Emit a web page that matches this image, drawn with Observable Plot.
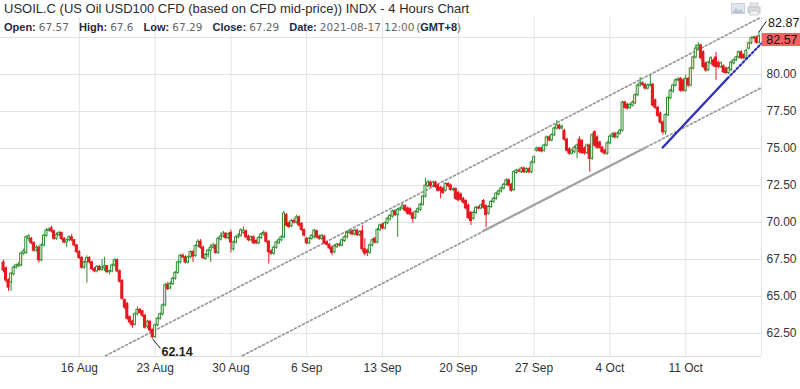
<!DOCTYPE html>
<html>
<head>
<meta charset="utf-8">
<script src="https://cdn.jsdelivr.net/npm/d3@7"></script>
<script src="https://cdn.jsdelivr.net/npm/@observablehq/plot@0.6"></script>
<style>
  html, body { margin: 0; padding: 0; background: #fff; }
  #wrap { position: relative; width: 800px; height: 389px; overflow: hidden; }
  #hdr { position: absolute; left: 4px; top: 1px; font-family: "Liberation Sans", Arial, sans-serif; color: #2b2b2b; pointer-events: none; }
  #title { font-size: 13px; line-height: 16px; white-space: nowrap; }
  #info { font-size: 11px; line-height: 14px; margin-top: 3px; white-space: nowrap; }
  #info b { color: #1f2a44; font-weight: bold; }
  #info .v { font-family: "DejaVu Sans", sans-serif; font-size: 10.5px; color: #666; margin-right: 7px; }
  #icons { position: absolute; left: 731px; top: 2px; }
</style>
</head>
<body>
<div id="wrap">
  <div id="chart"></div>
  <div id="hdr">
    <div id="title">USOIL.C (US Oil USD100 CFD (based on CFD mid-price)) INDX - 4 Hours Chart</div>
    <div id="info"><b>Open:</b> <span class="v">67.57</span> <b>High:</b> <span class="v">67.6</span> <b>Low:</b> <span class="v">67.29</span> <b>Close:</b> <span class="v">67.29</span> <b>Date:</b> <span class="v" style="margin-right:2px">2021-08-17 12:00</span><span style="color:#666">(</span><b>GMT+8</b><span style="color:#666">)</span></div>
  </div>
  <svg id="icons" width="32" height="14" viewBox="0 0 32 14">
    <rect x="0.5" y="1.5" width="13" height="10" fill="#dfe6ee" stroke="#c9d2dc"/>
    <path d="M1 11 L5 6 L8 9 L10 7 L13 11 Z" fill="#b8c4d0"/>
    <rect x="19" y="1" width="8" height="4" fill="#e8e8e8" stroke="#cfcfcf"/>
    <rect x="17" y="5" width="12" height="6" fill="#d5d9de" stroke="#c3c8ce"/>
    <rect x="19" y="9" width="8" height="4" fill="#f2f2f2" stroke="#cfcfcf"/>
  </svg>
</div>
<script>
// ---- data (4-hour candles, index 0 = Mon 9 Aug 2021) ----
const opens = [
67.30,66.90,66.10,65.95,66.50,66.95,67.05,67.10,67.90,67.95,
68.90,68.90,68.60,68.10,68.30,67.45,68.45,69.10,69.46,69.60,
69.40,68.90,69.15,69.30,68.90,68.65,68.80,69.00,68.80,68.45,
68.00,67.60,66.95,67.30,67.60,67.30,66.85,66.70,67.00,66.80,
66.90,67.05,66.65,66.70,67.10,67.45,66.70,66.05,64.75,64.50,
63.60,63.30,63.10,63.80,64.10,64.00,63.70,62.95,63.30,62.75,
62.25,63.05,63.50,63.80,64.40,65.80,65.55,65.85,66.20,66.60,
67.30,67.75,67.65,67.30,67.65,68.00,67.75,68.40,68.70,68.30,
67.55,67.80,68.10,68.30,68.45,67.95,68.85,69.05,69.25,68.95,
69.30,68.20,68.65,69.00,69.12,69.30,69.40,69.05,68.80,69.00,
68.75,68.60,68.95,69.20,69.25,68.70,68.05,67.90,68.30,68.60,
68.80,69.00,70.50,69.95,69.75,70.10,70.00,70.35,69.90,69.50,
68.90,68.60,68.90,69.00,69.40,69.05,68.90,69.05,68.65,68.50,
68.30,68.00,68.35,68.50,68.45,68.75,69.00,69.30,69.40,69.20,
69.45,69.15,69.40,68.20,68.10,67.95,68.45,68.90,68.65,69.50,
69.85,69.60,69.95,70.20,70.40,70.75,70.50,70.85,70.95,71.10,
70.95,70.90,70.60,70.30,70.70,70.85,71.20,71.75,72.45,72.70,
72.45,72.70,72.50,72.35,72.30,72.15,72.60,72.50,72.20,72.25,
72.00,71.90,71.60,71.45,71.15,70.65,70.25,70.65,71.00,70.95,
71.45,71.10,70.60,71.05,71.40,71.60,71.90,72.10,72.30,72.55,
72.85,72.55,72.20,73.35,73.50,73.40,73.65,73.40,73.60,73.40,
74.05,74.85,75.00,75.00,74.85,75.20,75.75,75.55,75.90,76.35,
76.55,76.35,76.20,75.60,74.95,74.65,74.75,75.00,75.60,75.50,
75.00,74.70,75.20,74.30,76.10,75.75,75.40,75.05,74.85,74.65,
75.35,75.80,76.00,75.75,76.00,76.20,78.10,77.95,77.75,77.90,
78.05,78.60,79.25,79.40,79.30,79.05,79.25,79.30,78.25,77.75,
77.35,76.75,76.10,77.25,78.40,78.85,79.25,79.60,79.70,79.60,
78.90,79.70,79.25,80.40,81.15,81.75,81.96,81.50,80.75,80.30,
80.75,80.95,81.15,80.80,80.50,80.55,80.40,80.10,80.30,80.75,
80.95,81.15,81.50,81.30,81.10,81.75,82.10,82.45,82.50,82.15];
const highs = [
67.45,67.00,66.20,66.60,67.05,67.20,67.30,68.00,68.20,69.10,
69.20,69.00,68.70,68.45,68.40,68.55,69.20,69.60,69.65,69.75,
69.50,69.30,69.40,69.35,69.00,68.90,69.10,69.20,68.85,68.50,
68.10,67.70,67.40,67.75,67.70,67.40,66.95,67.10,67.10,67.50,
67.65,67.10,66.80,67.20,67.55,67.55,66.80,66.15,64.85,64.60,
63.70,63.40,63.90,64.30,64.20,64.05,63.80,63.40,63.35,62.80,
63.15,63.60,63.90,64.50,65.90,65.95,66.00,66.30,66.70,67.40,
67.85,67.90,67.75,67.75,68.10,68.10,68.50,68.85,68.85,68.40,
67.90,68.20,68.50,68.60,68.50,69.00,69.30,69.40,69.30,69.30,
69.50,68.75,69.10,69.25,69.60,69.70,69.50,69.15,69.10,69.10,
68.85,69.05,69.30,69.45,69.35,68.80,68.15,68.40,68.75,68.95,
69.10,70.75,70.60,70.05,70.20,70.25,70.50,70.45,70.00,69.55,
69.00,69.00,69.20,69.55,69.50,69.15,69.20,69.15,68.75,68.60,
68.40,68.50,68.60,68.60,68.90,69.10,69.40,69.50,69.50,69.55,
69.55,69.45,69.80,68.90,68.20,68.55,68.90,69.00,69.60,69.90,
69.95,70.05,70.35,70.55,70.85,70.85,70.95,71.05,71.25,71.20,
71.05,71.00,70.70,70.80,71.00,71.30,71.85,73.00,72.85,72.80,
72.80,72.80,72.60,72.45,72.40,72.70,72.70,72.60,72.35,72.35,
72.10,72.00,71.70,71.55,71.25,70.75,70.75,71.10,71.10,71.25,
71.55,71.20,71.15,71.50,71.70,72.05,72.20,72.40,72.65,72.95,
72.95,72.65,73.50,73.60,73.60,73.75,73.75,73.70,73.70,74.15,
74.50,75.10,75.10,75.10,75.30,75.85,75.85,76.00,76.45,76.90,
76.65,76.60,76.30,75.70,75.05,74.95,75.15,75.30,75.80,75.60,
75.10,75.30,75.30,76.00,76.20,75.85,75.50,75.15,74.95,75.45,
75.90,76.05,76.10,76.10,76.30,78.20,78.20,78.05,78.05,78.20,
78.70,79.35,79.80,79.50,79.40,79.35,79.95,79.40,78.35,77.85,
77.45,76.85,77.35,78.50,79.00,79.35,79.70,79.80,79.80,79.70,
79.95,79.80,80.50,81.25,82.00,82.15,82.05,81.60,80.85,80.90,
81.20,81.05,81.50,80.90,80.85,80.65,80.50,80.50,80.90,81.05,
81.25,81.60,81.60,81.40,81.70,82.20,82.55,82.60,82.60,82.87];
const lows = [
66.60,65.90,65.34,65.35,66.40,66.85,66.95,67.00,67.75,67.85,
68.70,68.50,68.00,68.00,67.25,67.35,68.35,69.00,69.35,69.30,
68.80,68.80,69.05,68.80,68.55,68.30,68.70,68.70,68.35,67.90,
67.50,66.85,66.85,65.90,67.20,66.75,66.60,66.60,66.70,66.70,
66.70,66.55,66.45,66.60,67.00,66.60,65.90,64.75,64.10,63.40,
63.10,62.85,63.00,63.70,63.80,63.60,62.80,62.80,62.55,62.14,
62.20,62.95,63.40,63.70,64.30,65.40,65.45,65.75,66.10,66.50,
67.20,67.55,67.20,67.20,67.55,67.30,67.65,68.30,68.20,67.50,
67.45,67.60,67.30,68.20,67.85,67.85,68.75,68.95,68.85,68.85,
67.95,68.05,68.55,68.90,69.00,69.20,68.90,68.70,68.70,68.50,
68.50,68.50,68.85,69.10,68.60,67.20,67.80,67.80,68.20,68.50,
68.70,68.90,69.70,69.60,69.65,69.90,69.90,69.70,69.40,69.00,
68.50,68.50,68.80,68.90,68.90,68.80,68.80,68.50,68.40,68.15,
67.75,67.90,68.25,68.35,68.35,68.65,68.90,69.20,69.10,69.10,
69.05,69.05,68.00,67.75,67.70,67.85,68.35,68.55,68.55,69.40,
69.50,69.50,69.85,70.10,70.30,70.40,69.00,70.75,70.85,70.70,
70.50,70.45,69.95,70.20,70.60,70.75,71.10,71.65,72.35,72.35,
72.35,72.30,72.05,71.60,71.90,72.05,72.35,72.10,72.10,71.50,
71.40,71.45,71.25,70.85,70.20,69.80,70.15,70.55,70.85,70.85,
70.90,69.65,70.50,70.95,71.30,71.50,71.80,72.00,72.20,72.45,
72.40,72.05,72.10,73.25,73.35,73.30,73.30,73.30,73.30,73.30,
73.95,74.75,74.75,74.70,74.75,75.10,75.45,75.45,75.80,76.25,
76.25,76.25,75.50,74.75,74.55,74.55,74.65,74.30,74.65,74.60,
74.55,74.60,73.40,74.20,75.10,74.95,74.95,74.65,74.55,74.55,
75.25,75.70,75.65,75.65,75.90,76.10,77.65,77.60,77.65,77.80,
77.95,78.50,79.15,79.20,78.95,78.95,79.15,77.80,77.65,77.10,
76.65,75.90,75.90,77.15,78.30,78.75,79.15,79.50,78.80,78.80,
78.80,79.15,79.15,80.30,81.05,81.65,81.00,80.40,80.15,80.20,
80.65,80.50,79.60,80.40,80.40,80.05,80.00,80.00,80.20,80.65,
80.85,81.05,81.00,81.00,81.00,81.65,82.00,82.35,82.05,82.05];
const closes = [
66.76,66.08,65.60,66.55,66.95,67.10,67.15,67.90,68.05,69.00,
69.05,68.60,68.10,68.30,67.45,68.45,69.10,69.46,69.50,69.40,
68.90,69.15,69.30,68.90,68.65,68.80,69.00,68.80,68.45,68.00,
67.60,66.95,67.30,67.60,67.30,66.85,66.70,67.00,66.80,66.95,
67.05,66.65,66.70,67.10,67.45,66.70,66.00,64.85,64.25,63.50,
63.25,63.05,63.80,64.10,63.90,63.70,62.90,63.30,62.70,62.25,
63.05,63.50,63.80,64.40,65.75,65.50,65.85,66.20,66.60,67.30,
67.75,67.65,67.30,67.65,68.00,67.70,68.40,68.70,68.30,67.60,
67.80,68.10,68.30,68.45,67.95,68.90,69.05,69.25,68.95,69.20,
68.65,68.65,69.00,69.12,69.46,69.45,69.00,68.80,69.00,68.60,
68.60,68.95,69.20,69.30,68.70,68.00,67.90,68.30,68.65,68.80,
69.00,70.60,69.80,69.70,70.10,70.00,70.35,69.80,69.50,69.12,
68.60,68.90,69.10,69.45,69.00,68.90,69.10,68.60,68.50,68.25,
67.95,68.40,68.50,68.45,68.80,69.00,69.30,69.40,69.20,69.45,
69.15,69.35,68.20,67.90,67.95,68.45,68.80,68.65,69.50,69.80,
69.60,69.95,70.25,70.45,70.75,70.50,70.85,70.95,71.15,70.80,
70.60,70.55,70.25,70.70,70.90,71.20,71.75,72.50,72.70,72.45,
72.70,72.40,72.15,72.15,72.00,72.60,72.45,72.20,72.25,71.60,
71.50,71.55,71.35,70.95,70.30,70.10,70.65,71.00,70.95,71.15,
71.00,70.50,71.05,71.40,71.60,71.95,72.10,72.30,72.55,72.85,
72.50,72.15,73.40,73.50,73.45,73.65,73.40,73.60,73.40,74.05,
74.40,75.00,74.85,74.80,75.20,75.75,75.55,75.90,76.35,76.55,
76.35,76.45,75.60,74.85,74.65,74.86,75.05,75.20,74.75,74.70,
74.66,75.20,74.30,75.90,75.20,75.05,75.05,74.75,74.65,75.35,
75.80,75.95,75.75,76.00,76.20,78.10,77.75,77.70,77.95,78.10,
78.60,79.25,79.40,79.30,79.05,79.25,79.30,77.90,77.75,77.20,
76.75,76.10,77.25,78.40,78.90,79.25,79.60,79.65,78.90,78.90,
79.70,79.25,80.40,81.15,81.75,81.96,81.10,80.50,80.27,80.80,
81.10,80.60,80.50,80.50,80.75,80.15,80.10,80.40,80.80,80.95,
81.15,81.50,81.10,81.10,81.60,82.10,82.45,82.50,82.15,82.57];

// x tick positions (candle index of each Monday) and labels
const tickIdx = [30, 60, 90, 120, 150, 180, 210, 240, 270];
const tickLabels = ["16 Aug", "23 Aug", "30 Aug", "6 Sep", "13 Sep", "20 Sep", "27 Sep", "4 Oct", "11 Oct"];
const priceGrid = [62.5, 65, 67.5, 70, 72.5, 75, 77.5, 80, 82.5];
const priceLabels = [62.5, 65, 67.5, 70, 72.5, 75, 77.5, 80];

// drawn trend lines: [candle index, price]
const upperChannel = [[40.4, 61.0], [299.6, 83.85]];
const lowerChannel = [[94.6, 61.01], [300, 79.11]];
const supportLine  = [[190, 69.45], [254, 75.05]];
const blueTrend    = [[260.9, 75.07], [286.5, 79.73]];
const blueExtension = [[286.5, 79.73], [300, 82.1]];

// ---- build ----
const GREEN = "#2e8b2e", RED = "#e8161e";
const candles = closes.map((c, i) => ({ i, o: opens[i], h: highs[i], l: lows[i], c, up: c >= opens[i] }));
const labelOf = new Map(tickIdx.map((d, k) => [d, tickLabels[k]]));

const lowV = d3.min(lows), lowI = lows.indexOf(lowV);
const last = candles[candles.length - 1];
const lowPt = [{ i: lowI, p: lowV }];
const lastPt = [last];

const X_DOMAIN = [-1.2, 300];
const Y_DOMAIN = [60.95, 83.85];

const chart = Plot.plot({
  width: 800,
  height: 389,
  marginTop: 17,
  marginBottom: 33,
  marginLeft: 0,
  marginRight: 39,
  x: { domain: X_DOMAIN, axis: null, label: null },
  y: { domain: Y_DOMAIN, axis: null, label: null },
  style: { fontFamily: "'Liberation Sans', Arial, sans-serif", background: "transparent", overflow: "visible" },
  marks: [
    Plot.gridY(priceGrid, { stroke: "#e2e2e2", strokeOpacity: 1 }),
    Plot.gridX(tickIdx, { stroke: "#e2e2e2", strokeOpacity: 1 }),
    Plot.ruleY([Y_DOMAIN[0]], { stroke: "#dcdcdc" }),
    Plot.ruleX([X_DOMAIN[1]], { stroke: "#e2e2e2" }),
    Plot.axisY(priceLabels, { anchor: "right", label: null, tickSize: 0, tickPadding: 5, tickFormat: d => d.toFixed(2), fontSize: 12, color: "#333" }),
    Plot.axisX(tickIdx, { anchor: "bottom", label: null, tickSize: 0, tickPadding: 7, tickFormat: d => labelOf.get(d), fontSize: 12, color: "#333" }),
    // channel lines
    Plot.line(upperChannel, { stroke: "#999", strokeWidth: 1.7, strokeDasharray: "2,2.5" }),
    Plot.line(lowerChannel, { stroke: "#999", strokeWidth: 1.7, strokeDasharray: "2,2.5" }),
    Plot.line(supportLine, { stroke: "#a3a3a3", strokeWidth: 2.2 }),
    // candles
    Plot.ruleX(candles, { x: "i", y1: "l", y2: "h", stroke: d => d.up ? GREEN : RED, strokeWidth: 1 }),
    Plot.rect(candles, { x1: d => d.i - 0.4, x2: d => d.i + 0.4, y1: "o", y2: "c", fill: d => d.up ? "#ffffff" : RED, stroke: d => d.up ? GREEN : RED, strokeWidth: 1 }),
    // blue trend
    Plot.line(blueTrend, { stroke: "#3131b8", strokeWidth: 2.4 }),
    Plot.line(blueExtension, { stroke: "#3131b8", strokeWidth: 2.2, strokeDasharray: "2,2.4" }),
    // low annotation
    Plot.link(lowPt, { x1: "i", y1: "p", x2: d => d.i + 3.1, y2: d => d.p - 0.65, stroke: "#222", strokeWidth: 1 }),
    Plot.text(lowPt, { x: d => d.i + 3.5, y: d => d.p - 0.86, text: d => d.p.toFixed(2), textAnchor: "start", fontSize: 12.5, fontWeight: "bold", fill: "#222" }),
    // last-candle high annotation
    Plot.link(lastPt, { x1: "i", y1: "h", x2: d => d.i + 2.9, y2: d => d.h + 0.72, stroke: "#222", strokeWidth: 1 }),
    Plot.text(lastPt, { x: d => d.i + 3.6, y: d => d.h + 0.64, text: d => d.h.toFixed(2), textAnchor: "start", fontSize: 12.5, fill: "#111" }),
    // current price box
    Plot.rect(lastPt, { x1: d => d.i + 1.3, x2: d => d.i + 16.5, y1: d => d.c + 0.2, y2: d => d.c - 0.68, fill: "#f26262" }),
    Plot.text(lastPt, { x: d => d.i + 1.3, y: d => d.c - 0.26, dx: 4, text: d => d.c.toFixed(2), textAnchor: "start", fontSize: 12.5, fill: "#111" })
  ]
});
document.getElementById("chart").appendChild(chart);
</script>
</body>
</html>
